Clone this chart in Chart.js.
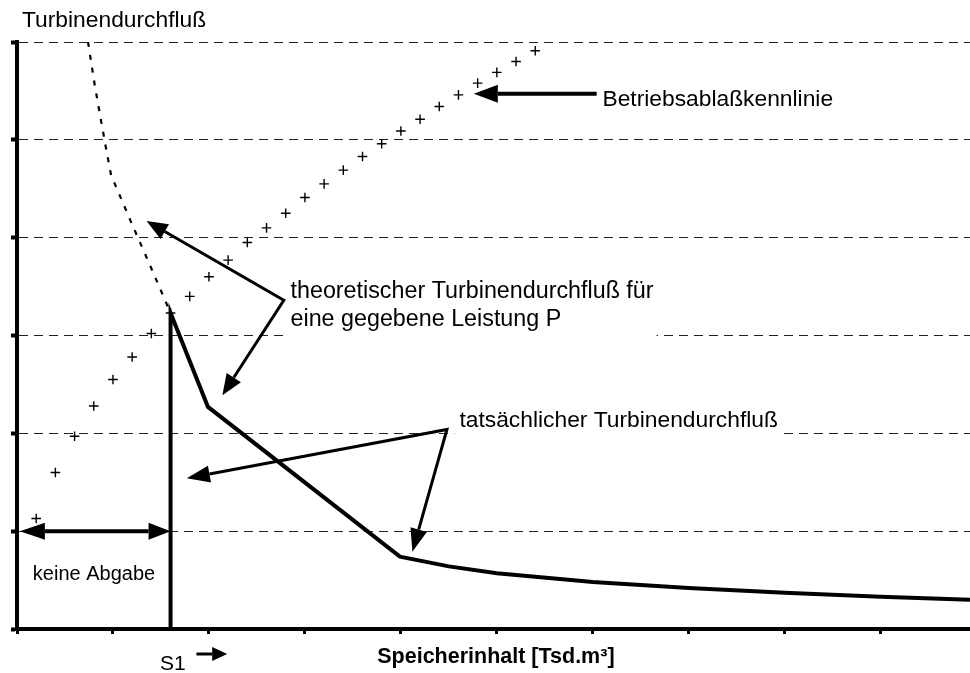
<!DOCTYPE html>
<html>
<head>
<meta charset="utf-8">
<script src="https://cdn.jsdelivr.net/npm/chart.js@4.4.0/dist/chart.umd.min.js"></script>
<style>
  body { margin: 0; background: #fff; }
  #wrap { width: 970px; height: 673px; }
</style>
</head>
<body>
<div id="wrap"><canvas id="chart" width="970" height="673"></canvas></div>
<script>
// Betriebsablaßkennlinie (plus markers)
const ablassX = [0.2, 0.4, 0.6, 0.8, 1.0, 1.2, 1.4, 1.6, 1.8, 2.0, 2.2, 2.4, 2.6, 2.8,
                 3.0, 3.2, 3.4, 3.6, 3.8, 4.0, 4.2, 4.4, 4.6, 4.8, 5.0, 5.2, 5.4];
const ablassY = [1.13, 1.6, 1.97, 2.28, 2.55, 2.78, 3.02, 3.23, 3.4, 3.6, 3.77, 3.95, 4.1, 4.25,
                 4.41, 4.55, 4.69, 4.83, 4.96, 5.09, 5.21, 5.34, 5.46, 5.58, 5.69, 5.8, 5.91];

// theoretischer Turbinendurchfluss (dotted)
const theorX = [0.74, 0.81, 0.875, 0.93, 0.98, 1.18, 1.385, 1.6];
const theorY = [6.0, 5.56, 5.2, 4.9, 4.64, 4.18, 3.72, 3.23];

// tatsaechlicher Turbinendurchfluss (thick line)
const istX = [1.6, 1.6, 1.99, 3.99, 4.5, 5.0, 6.0, 7.0, 8.0, 9.0, 9.93];
const istY = [0, 3.23, 2.27, 0.74, 0.64, 0.57, 0.48, 0.42, 0.37, 0.33, 0.30];

// tick positions (no labels)
const xTicks = [0, 1, 2, 3, 4, 5, 6, 7, 8, 9];
const yTicks = [0, 1, 2, 3, 4, 5, 6];

const FONT = '"Liberation Sans", Arial, sans-serif';

// text labels inside the plot, in axis units (x, baseline y)
const notes = [
    { text: 'Betriebsablaßkennlinie', x: 6.1, y: 5.35, box: false },
    { text: 'theoretischer Turbinendurchfluß für', x: 2.85, y: 3.38, box: true, text2: 'eine gegebene Leistung P', y2: 3.1, size: 23.3 },
    { text: 'tatsächlicher Turbinendurchfluß', x: 4.61, y: 2.065, box: true },
    { text: 'keine Abgabe', x: 0.165, y: 0.5, box: false, size: 20 }
];

// arrows: from (x1,y1) to the tip at (x2,y2)
const arrows = [
    { from: [6.04, 5.47], to: [[4.76, 5.47]], w: 4, len: 24, half: 9 },
    { from: [2.78, 3.36], to: [[1.35, 4.17], [2.14, 2.39]], w: 3, len: 21, half: 8.5 },
    { from: [4.48, 2.04], to: [[1.77, 1.54], [4.12, 0.79]], w: 3, len: 23, half: 8.5 }
];

function drawHead(ctx, fx, fy, tx, ty, len, half) {
    const a = Math.atan2(ty - fy, tx - fx);
    const bx = tx - len * Math.cos(a), by = ty - len * Math.sin(a);
    ctx.beginPath();
    ctx.moveTo(tx, ty);
    ctx.lineTo(bx + half * Math.sin(a), by - half * Math.cos(a));
    ctx.lineTo(bx - half * Math.sin(a), by + half * Math.cos(a));
    ctx.closePath();
    ctx.fill();
    return [bx, by];
}

const annotations = {
    id: 'annotations',
    afterDatasetsDraw(chart) {
        const ctx = chart.ctx;
        const xs = chart.scales.x, ys = chart.scales.y;
        const area = chart.chartArea;
        const px = v => xs.getPixelForValue(v);
        const py = v => ys.getPixelForValue(v);
        ctx.save();
        ctx.fillStyle = '#000';
        ctx.strokeStyle = '#000';
        ctx.textBaseline = 'alphabetic';

        // y axis title
        ctx.font = '22.8px ' + FONT;
        ctx.textAlign = 'left';
        ctx.fillText('Turbinendurchfluß', area.left + 5, area.top - 15);

        // labels with white backing over the grid
        notes.forEach(n => {
            const size = n.size || 22.8;
            ctx.font = size + 'px ' + FONT;
            const x = px(n.x), y = py(n.y);
            if (n.box) {
                const w = ctx.measureText(n.text).width;
                const yb = n.text2 ? py(n.y2) : y;
                ctx.fillStyle = '#fff';
                ctx.fillRect(x - 5, y - size * 0.85, w + 8, yb - y + size * 0.85 + size * 0.55);
                ctx.fillStyle = '#000';
            }
            ctx.fillText(n.text, x, y);
            if (n.text2) ctx.fillText(n.text2, x, py(n.y2));
        });

        // pointer arrows
        ctx.lineJoin = 'miter';
        arrows.forEach(a => {
            const fx = px(a.from[0]), fy = py(a.from[1]);
            const bases = a.to.map(t => drawHead(ctx, fx, fy, px(t[0]), py(t[1]), a.len, a.half));
            ctx.lineWidth = a.w;
            ctx.beginPath();
            ctx.moveTo(bases[0][0], bases[0][1]);
            ctx.lineTo(fx, fy);
            if (bases[1]) ctx.lineTo(bases[1][0], bases[1][1]);
            ctx.stroke();
        });

        // "keine Abgabe" span between axis and S1
        const yk = py(1);
        const l = drawHead(ctx, px(1.6), yk, px(0.03), yk, 25, 8.5);
        const r = drawHead(ctx, px(0.03), yk, px(1.6), yk, 22, 8.5);
        ctx.lineWidth = 4;
        ctx.beginPath();
        ctx.moveTo(l[0], yk);
        ctx.lineTo(r[0], yk);
        ctx.stroke();

        // S1 marker below the axis
        ctx.font = '21px ' + FONT;
        ctx.fillText('S1', px(1.49), area.bottom + 41);
        const ys1 = area.bottom + 25;
        const h = drawHead(ctx, px(1.87), ys1, px(2.19), ys1, 15, 7);
        ctx.lineWidth = 3;
        ctx.beginPath();
        ctx.moveTo(px(1.87), ys1);
        ctx.lineTo(h[0], ys1);
        ctx.stroke();

        // x axis title
        ctx.font = 'bold 21.5px ' + FONT;
        ctx.textAlign = 'center';
        ctx.fillText('Speicherinhalt [Tsd.m³]', px(4.99), area.bottom + 34);
        ctx.restore();
    }
};

const toPoints = (xs, ys) => xs.map((x, i) => ({ x: x, y: ys[i] }));

new Chart(document.getElementById('chart'), {
    type: 'scatter',
    data: {
        datasets: [
            {
                label: 'Betriebsablaßkennlinie',
                data: toPoints(ablassX, ablassY),
                pointStyle: 'cross',
                pointRadius: 4.8,
                borderColor: '#000',
                borderWidth: 1.4,
                showLine: false
            },
            {
                label: 'theoretischer Turbinendurchfluß',
                data: toPoints(theorX, theorY),
                showLine: true,
                borderColor: '#000',
                borderWidth: 2.2,
                borderDash: [5, 8],
                pointRadius: 0,
                tension: 0
            },
            {
                label: 'tatsächlicher Turbinendurchfluß',
                data: toPoints(istX, istY),
                showLine: true,
                borderColor: '#000',
                borderWidth: 4,
                pointRadius: 0,
                tension: 0
            }
        ]
    },
    options: {
        responsive: false,
        animation: false,
        devicePixelRatio: 1,
        layout: { autoPadding: false, padding: { left: 17, right: 0, top: 42, bottom: 44 } },
        plugins: {
            legend: { display: false },
            tooltip: { enabled: false }
        },
        scales: {
            x: {
                type: 'linear',
                min: 0,
                max: 9.93,
                afterBuildTicks: s => { s.ticks = xTicks.map(v => ({ value: v })); },
                afterFit: s => { s.height = 0; },
                ticks: { display: false },
                grid: {
                    drawOnChartArea: false,
                    drawTicks: true,
                    tickLength: 5,
                    tickWidth: 3,
                    tickColor: '#000'
                },
                border: { color: '#000', width: 4 }
            },
            y: {
                type: 'linear',
                min: 0,
                max: 6,
                afterBuildTicks: s => { s.ticks = yTicks.map(v => ({ value: v })); },
                afterFit: s => { s.width = 0; },
                ticks: { display: false },
                grid: {
                    color: c => (c.tick && c.tick.value === 0) ? 'rgba(0,0,0,0)' : '#222',
                    lineWidth: 1,
                    drawTicks: true,
                    tickLength: 6,
                    tickWidth: 4,
                    tickColor: '#000',
                    tickBorderDash: []
                },
                border: { color: '#000', width: 4, dash: [9, 6] }
            }
        }
    },
    plugins: [annotations]
});
</script>
</body>
</html>
